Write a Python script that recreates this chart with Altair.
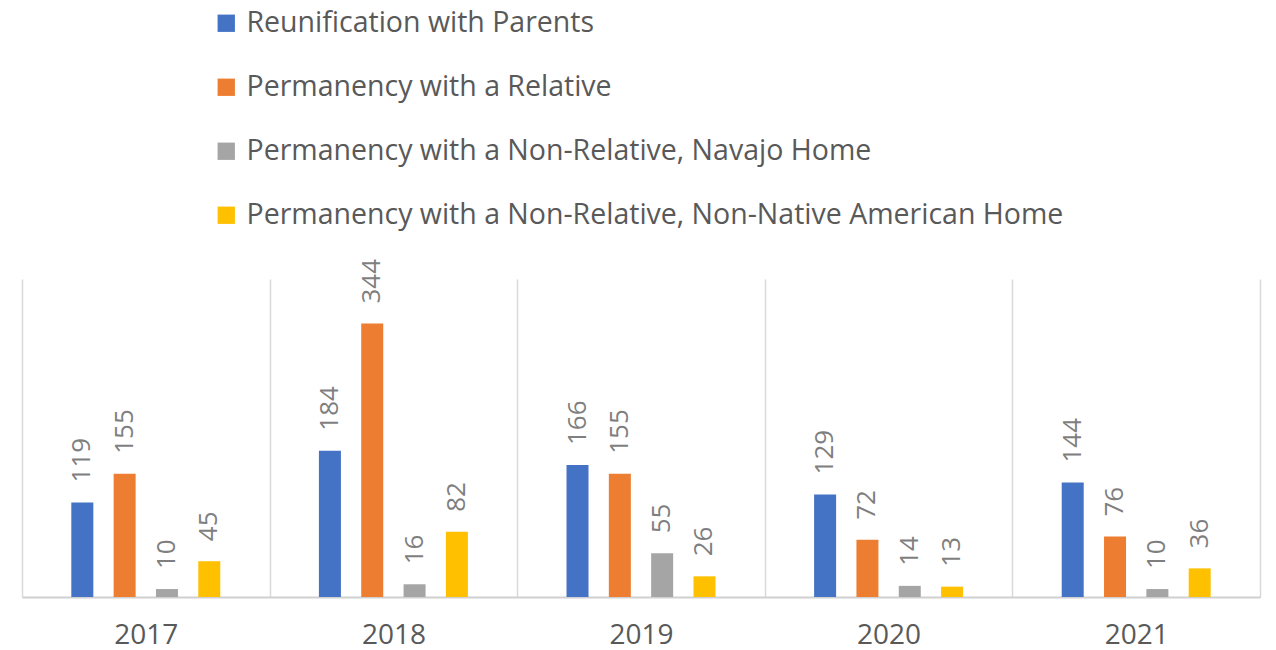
import altair as alt
import pandas as pd

years = ["2017", "2018", "2019", "2020", "2021"]
series = [
    "Reunification with Parents",
    "Permanency with a Relative",
    "Permanency with a Non-Relative, Navajo Home",
    "Permanency with a Non-Relative, Non-Native American Home",
]
reunification = [119, 184, 166, 129, 144]
relative = [155, 344, 155, 72, 76]
navajo = [10, 16, 55, 14, 10]
non_native = [45, 82, 26, 13, 36]
colors = ["#4472C4", "#ED7D31", "#A5A5A5", "#FFC000"]

rows = []
for name, vals in zip(series, [reunification, relative, navajo, non_native]):
    for y, v in zip(years, vals):
        rows.append({"Year": y, "Series": name, "Value": v})
df = pd.DataFrame(rows)

FONT = "Open Sans"

x = alt.X(
    "Year:N",
    sort=years,
    title=None,
    scale=alt.Scale(paddingInner=0, paddingOuter=0),
    axis=alt.Axis(
        grid=True,
        gridColor="#D9D9D9",
        gridWidth=1.5,
        tickBand="extent",
        ticks=False,
        domainColor="#D0D0D0",
        domainWidth=2,
        labelAngle=0,
        labelFont=FONT,
        labelFontSize=28,
        labelColor="#595959",
        labelPadding=24,
    ),
)
xo = alt.XOffset(
    "Series:N",
    sort=series,
    scale=alt.Scale(paddingInner=0, paddingOuter=0.925),
)
y = alt.Y(
    "Value:Q",
    scale=alt.Scale(domain=[0, 400]),
    axis=None,
)

bars = alt.Chart(df).mark_bar(width=22).encode(
    x=x,
    xOffset=xo,
    y=y,
    color=alt.Color(
        "Series:N",
        sort=series,
        scale=alt.Scale(domain=series, range=colors),
        legend=alt.Legend(
            title=None,
            orient="none",
            legendX=190,
            legendY=-270,
            direction="vertical",
            symbolType="square",
            symbolSize=300,
            symbolStrokeWidth=0,
            labelFont=FONT,
            labelFontSize=28.5,
            labelColor="#595959",
            labelLimit=1100,
            rowPadding=35,
            labelOffset=6,
        ),
    ),
)

labels = alt.Chart(df).mark_text(
    angle=270,
    align="left",
    baseline="middle",
    dx=20,
    font=FONT,
    fontSize=26,
    color="#7F7F7F",
).encode(
    x=x,
    xOffset=xo,
    y=y,
    text="Value:Q",
)

chart = (
    alt.layer(bars, labels)
    .properties(
        width=1238,
        height=318,
        padding={"left": 22, "top": 279, "right": 16, "bottom": 53},
        autosize=alt.AutoSizeParams(type="none"),
    )
    .configure_view(stroke=None)
)

chart.save("out.html", embed_options={"renderer": "svg", "actions": False})
